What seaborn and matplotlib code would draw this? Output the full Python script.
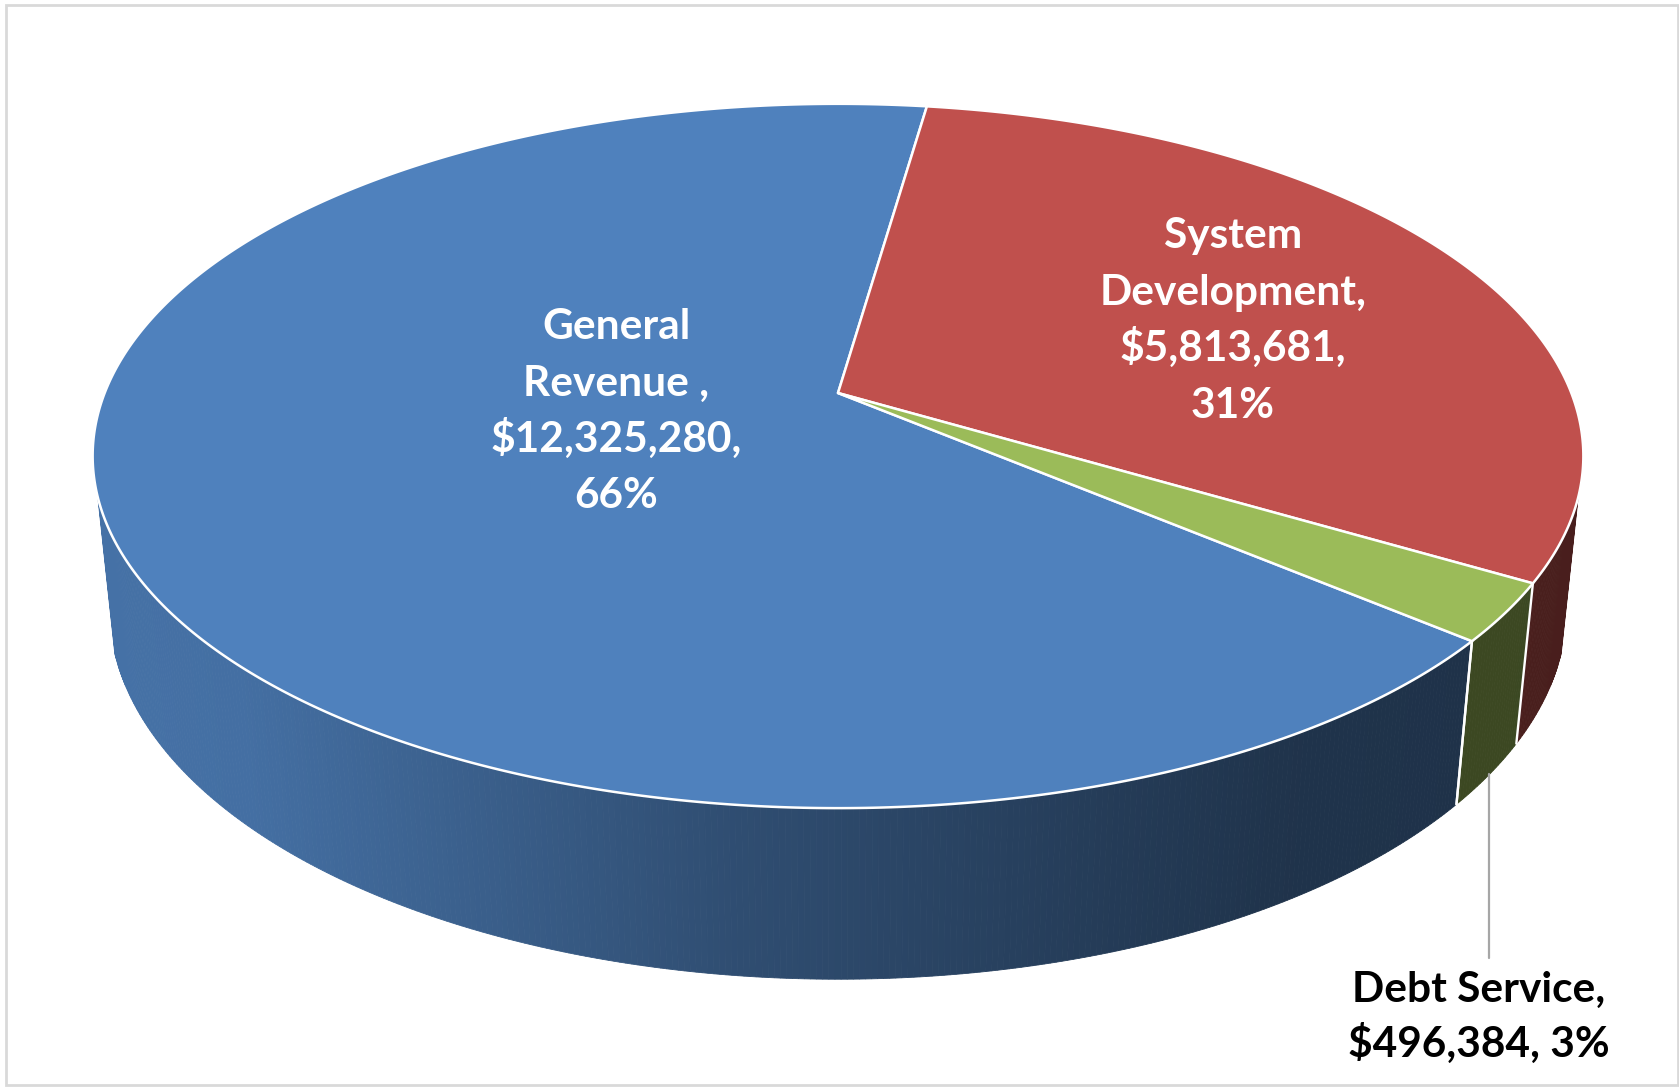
import numpy as np
import matplotlib
matplotlib.use("Agg")
import matplotlib.pyplot as plt
from matplotlib.patches import Rectangle
import seaborn as sns

# Revenue sources
categories = ["General Revenue", "System Development", "Debt Service"]
amounts = [12325280, 5813681, 496384]
top_colors = ["#4F81BD", "#C0504D", "#9BBB59"]
label_heads = [["General", "Revenue ,"], ["System", "Development,"], ["Debt Service,"]]

sns.set_theme(style="white")
plt.rcParams["font.family"] = ["Lato", "DejaVu Sans"]

W, H = 1679, 1087
fig = plt.figure(figsize=(W / 100, H / 100), dpi=100)
ax = fig.add_axes([0, 0, 1, 1])

# simple pinhole camera looking down on a flat disk of radius 1
CX, CY = 838.0, 393.0
FOCAL = 3630.0
DIST = 4.95
TILT = np.radians(27.7)
DEPTH = 0.2364
SIDE_CUT = -0.29  # side wall drawn where sin(theta) is below this


def project(theta_deg, z=0.0, r=1.0):
    th = np.radians(theta_deg)
    X = r * np.cos(th)
    Y = r * np.sin(th)
    yc = Y * np.sin(TILT) + z * np.cos(TILT)
    zc = Y * np.cos(TILT) - z * np.sin(TILT) + DIST
    return CX + FOCAL * X / zc, CY - FOCAL * yc / zc


palette = sns.color_palette(top_colors)
wedges, _ = ax.pie(amounts, startangle=319.9, counterclock=False, colors=palette)
spans = [(w.theta1, w.theta2) for w in wedges]
for w in wedges:
    w.remove()

# horizontal extent of the disk for the side shading ramp
ring = np.linspace(0, 360, 1441)
ring_x, _ = project(ring)
x_left, x_right = ring_x.min(), ring_x.max()


def shade(sx):
    t = (sx - x_left) / (x_right - x_left)
    return np.interp(t, [0.0, 0.1, 0.43, 0.8, 1.0], [0.88, 0.86, 0.60, 0.40, 0.38])


vis_lo = 180 + np.degrees(np.arcsin(-SIDE_CUT))
vis_hi = 360 - np.degrees(np.arcsin(-SIDE_CUT))

# side walls
boundary_angles = []
for (t1, t2), col in zip(spans, palette):
    for k in (-1, 0, 1):
        a = max(t1, vis_lo + 360 * k)
        b = min(t2, vis_hi + 360 * k)
        if b <= a:
            continue
        n = max(2, int((b - a) / 0.4) + 1)
        angs = np.linspace(a, b, n)
        for a0, a1 in zip(angs[:-1], angs[1:]):
            tx, ty = project(np.array([a0, a1]))
            bx, by = project(np.array([a1, a0]), z=-DEPTH)
            c = np.array(col) * shade(tx.mean())
            ax.fill(np.r_[tx, bx], np.r_[ty, by], facecolor=c, edgecolor=c,
                    lw=0.6, zorder=2)
        for edge in (t1, t2):
            if a <= edge <= b and edge not in (vis_lo + 360 * k, vis_hi + 360 * k):
                boundary_angles.append(edge)

for edge in set(np.round(boundary_angles, 6)):
    x0, y0 = project(edge)
    x1, y1 = project(edge, z=-DEPTH)
    ax.plot([x0, x1], [y0, y1], color="white", lw=1.7, zorder=3)

# top faces
for (t1, t2), col in zip(spans, palette):
    angs = np.linspace(t1, t2, max(3, int((t2 - t1) * 2)))
    ax_, ay_ = project(angs)
    ax.fill(np.r_[CX, ax_], np.r_[CY, ay_], facecolor=col, edgecolor="white",
            lw=1.8, joinstyle="round", zorder=4)

# data labels
total = sum(amounts)
label_x = [616, 1233, 1479]
label_y0 = [339, 248, 1002]
label_step = [56.5, 56.5, 55.0]
label_color = ["white", "white", "black"]
for i, v in enumerate(amounts):
    money = f"${v:,},"
    pct = f"{round(100 * v / total)}%"
    if i == 2:
        lines = label_heads[i] + [f"{money} {pct}"]
    else:
        lines = label_heads[i] + [money, pct]
    for j, line in enumerate(lines):
        ax.text(label_x[i], label_y0[i] + j * label_step[i], line, ha="center",
                va="baseline", fontsize=30.5, fontweight="bold",
                color=label_color[i], zorder=6)

# leader line for the small slice
t1, t2 = spans[2]
lx, ly = project((t1 + t2) / 2, z=-DEPTH)
ax.plot([lx, lx], [ly, 958], color="#A6A6A6", lw=1.6, zorder=5)

# chart frame
ax.add_patch(Rectangle((6, 5), 1671.5, 1080, fill=False, edgecolor="#D9D9D9",
                       lw=2.0, zorder=7))

ax.set_xlim(0, W)
ax.set_ylim(H, 0)
ax.set_aspect("auto")
ax.axis("off")
fig.savefig("out.png", dpi=100)
